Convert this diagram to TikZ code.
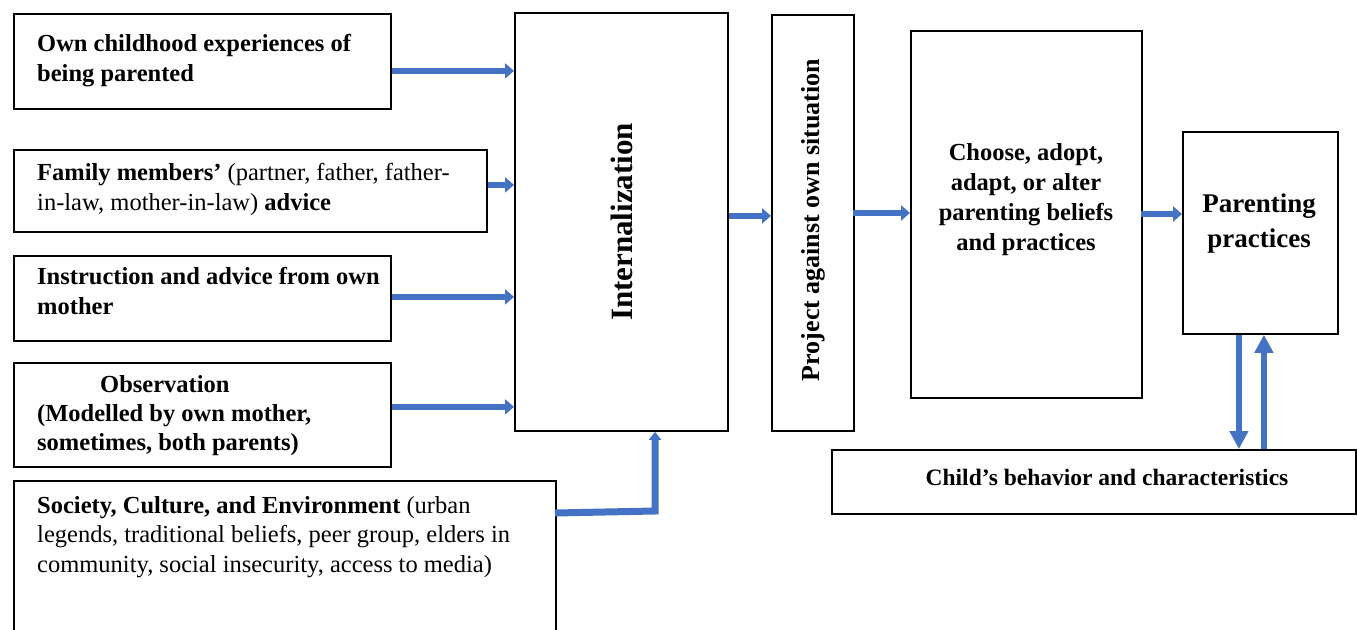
\documentclass[tikz,border=0pt]{standalone}
\usepackage{fontspec}
\setmainfont{Liberation Serif}
\usetikzlibrary{arrows.meta}
\definecolor{arrblue}{HTML}{4472C4}
\begin{document}
\begin{tikzpicture}[x=1pt,y=-1pt,
  box/.style={draw, line width=1.8pt, inner sep=0pt, anchor=north west},
  body/.style={inner sep=0pt, anchor=north west, align=left, font=\fontsize{24.5}{30}\selectfont},
  arr/.style={draw=arrblue, line width=5.5pt, -{Triangle[length=9pt,width=15pt]}},
  varr/.style={draw=arrblue, line width=6pt, -{Triangle[length=18pt,width=18pt]}}]
\clip (0,0) rectangle (1357,629);
\fill[white] (0,0) rectangle (1357,629);
% left boxes
\node[box, minimum width=377pt, minimum height=95pt] (b1) at (13,13) {};
\node[box, minimum width=473pt, minimum height=82pt] (b2) at (13,149) {};
\node[box, minimum width=377pt, minimum height=85pt] (b3) at (13,255) {};
\node[box, minimum width=377pt, minimum height=104pt] (b4) at (13,362) {};
\node[box, minimum width=542pt, minimum height=170pt] (b5) at (13,480) {};
% middle / right boxes
\node[box, minimum width=213pt, minimum height=418pt] (int) at (514,12) {};
\node[box, minimum width=82pt, minimum height=416pt] (proj) at (771,14) {};
\node[box, minimum width=231pt, minimum height=367pt] (cho) at (910,30) {};
\node[box, minimum width=155pt, minimum height=202pt] (pp) at (1182,131) {};
\node[box, minimum width=524pt, minimum height=64pt] (chi) at (831,449) {};
% texts
\node[body] (t1) at (37,34) {\bfseries Own childhood experiences of\\\bfseries being parented};
\node[body] (t2) at (37,163) {\textbf{Family members’} (partner, father, father-\\in-law, mother-in-law) \textbf{advice}};
\node[body] (t3) at (37,267) {\bfseries Instruction and advice from own\\\bfseries mother};
\node[body, font=\fontsize{24.5}{29}\selectfont\bfseries] (t4) at (37,375) {\hspace*{63pt}Observation\\(Modelled by own mother,\\sometimes, both parents)};
\node[body, font=\fontsize{24.5}{29.5}\selectfont] (t5) at (37,496) {\textbf{Society, Culture, and Environment} (urban\\legends, traditional beliefs, peer group, elders in\\community, social insecurity, access to media)};
\node[inner sep=0pt, rotate=90, font=\fontsize{31}{36}\selectfont\bfseries] (tint) at (int.center) {Internalization};
\node[inner sep=0pt, rotate=90, font=\fontsize{26}{30}\selectfont\bfseries] (tproj) at ([yshift=3pt]proj.center) {Project against own situation};
\node[inner sep=0pt, anchor=north, align=center, font=\fontsize{24.5}{30}\selectfont\bfseries] (tcho) at (1026,143) {Choose, adopt,\\adapt, or alter\\parenting beliefs\\and practices};
\node[inner sep=0pt, anchor=north, align=center, font=\fontsize{27}{35}\selectfont\bfseries] (tpp) at (1259,194) {Parenting\\practices};
\node[inner sep=0pt, anchor=base, font=\fontsize{23.5}{28}\selectfont\bfseries] (tchi) at (1107,485) {Child’s behavior and characteristics};
% arrows
\coordinate (a1) at ([yshift=-9.5pt]b1.east);
\coordinate (a2) at ([yshift=6pt]b2.east);
\coordinate (a3) at ([yshift=1.5pt]b3.east);
\coordinate (a4) at ([yshift=8pt]b4.east);
\draw[arr] (a1) -- (a1 -| int.west);
\draw[arr] (a2) -- (a2 -| int.west);
\draw[arr] (a3) -- (a3 -| int.west);
\draw[arr] (a4) -- (a4 -| int.west);
\coordinate (a5s) at (555,513);
\coordinate (a5c) at (655,511);
\draw[draw=arrblue, line width=7pt, -{Triangle[length=8pt,width=12pt]}] (a5s) -- (a5c) -- (a5c |- int.south);
\coordinate (a6) at ([yshift=6pt]int.east);
\draw[arr] (a6) -- (a6 -| proj.west);
\coordinate (a7) at (853,213);
\draw[arr] (a7) -- (a7 -| cho.west);
\coordinate (a8) at (1141,214);
\draw[arr] (a8) -- (a8 -| pp.west);
\coordinate (a9) at ([xshift=-21.5pt]pp.south);
\draw[varr] (a9) -- (a9 |- chi.north);
\coordinate (a10) at ([xshift=3.5pt]chi.north -| pp.south);
\draw[varr] (a10) -- (a10 |- pp.south);
\end{tikzpicture}
\end{document}
